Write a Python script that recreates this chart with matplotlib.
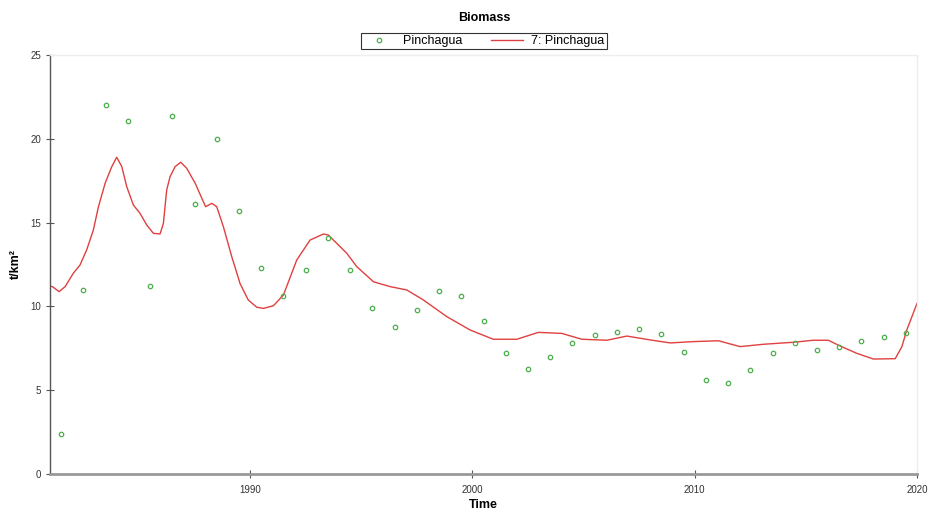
import matplotlib
matplotlib.use("Agg")
import matplotlib.pyplot as plt
from matplotlib.lines import Line2D

plt.rcParams['font.family'] = ['Liberation Sans', 'DejaVu Sans']

# observed biomass (one point per year, plotted mid-year)
obs_years = [y + 0.5 for y in range(1981, 2020)]
obs_values = [2.4, 11.0, 22.0, 21.05, 11.2, 21.35, 16.1, 20.0, 15.7, 12.3,
              10.6, 12.2, 14.1, 12.2, 9.9, 8.8, 9.8, 10.9, 10.6, 9.1,
              7.2, 6.28, 7.0, 7.83, 8.29, 8.45, 8.65, 8.37, 7.28, 5.63,
              5.41, 6.2, 7.2, 7.8, 7.38, 7.58, 7.95, 8.17, 8.39]

# model fit
fit_years = [1981.0, 1981.11, 1981.41, 1981.68, 1982.05, 1982.35, 1982.65, 1982.95,
             1983.18, 1983.48, 1983.78, 1984.0, 1984.23, 1984.45, 1984.75, 1985.05,
             1985.35, 1985.65, 1985.95, 1986.1, 1986.25, 1986.4, 1986.63, 1986.88,
             1987.15, 1987.53, 1987.83, 1988.0, 1988.28, 1988.5, 1988.8, 1989.18,
             1989.55, 1989.92, 1990.3, 1990.6, 1991.05, 1991.5,
             1992.1, 1992.7, 1993.3, 1993.52, 1994.35, 1994.8, 1995.55, 1996.3,
             1997.05, 1997.8, 1998.85, 1999.9, 2000.94, 2002.0, 2002.97, 2004.02,
             2004.92, 2006.05, 2006.95, 2008.0, 2008.9, 2009.94, 2011.07, 2012.04,
             2013.09, 2014.44, 2015.34, 2016.01, 2016.54, 2017.29, 2018.04, 2019.02,
             2019.32, 2019.54, 2020.0]
fit_values = [11.2, 11.18, 10.88, 11.18, 11.98, 12.47, 13.37, 14.56,
              15.95, 17.35, 18.34, 18.9, 18.34, 17.15, 16.05, 15.55,
              14.86, 14.36, 14.32, 14.95, 16.95, 17.74, 18.34, 18.6,
              18.24, 17.35, 16.45, 15.95, 16.15, 15.95, 14.75, 12.95,
              11.36, 10.38, 9.95, 9.88, 10.04, 10.68,
              12.77, 13.96, 14.32, 14.26, 13.17, 12.37, 11.47, 11.18,
              10.98, 10.38, 9.39, 8.59, 8.04, 8.04, 8.45, 8.39,
              8.04, 7.98, 8.23, 8.0, 7.82, 7.9, 7.95, 7.6,
              7.74, 7.86, 7.98, 7.98, 7.64, 7.2, 6.86, 6.88,
              7.6, 8.59, 10.18]

x_ticks = [1990, 2000, 2010, 2020]
y_ticks = [0, 5, 10, 15, 20, 25]

green = '#4cae4c'
red = '#e0403f'

fig = plt.figure(figsize=(9.3, 5.14), dpi=100)
ax = fig.add_axes([50 / 930, 1 - 474 / 514, 867 / 930, 419 / 514])

ax.plot(fit_years, fit_values, color=red, lw=1.0, zorder=2)
ax.plot(obs_years, obs_values, linestyle='none', marker='o', markersize=3.2,
        markerfacecolor='none', markeredgecolor=green, markeredgewidth=0.9, zorder=3)

ax.set_xlim(1981, 2020)
ax.set_ylim(0, 25)
ax.set_xticks(x_ticks)
ax.set_yticks(y_ticks)
ax.tick_params(axis='both', direction='inout', length=6, width=0.8,
               labelsize=7, color='#555555', labelcolor='#333333')
ax.tick_params(axis='x', pad=5)

for side in ['top', 'right']:
    ax.spines[side].set_color('#eeeeee')
    ax.spines[side].set_linewidth(1.0)
ax.spines['left'].set_color('#555555')
ax.spines['left'].set_linewidth(1.0)
ax.spines['bottom'].set_color('#999999')
ax.spines['bottom'].set_linewidth(2.0)

ax.set_xlabel('Time', fontsize=9, fontweight='bold', labelpad=3)
ax.set_ylabel('t/km²', fontsize=9, fontweight='bold', labelpad=6)

fig.text(484 / 930, 1 - 18 / 514, 'Biomass', ha='center', va='center',
         fontsize=9, fontweight='bold')

handles = [
    Line2D([], [], linestyle='none', marker='o', markersize=3.2,
           markerfacecolor='none', markeredgecolor=green, markeredgewidth=0.9),
    Line2D([], [], color=red, lw=1.0),
]
leg = fig.legend(handles, ['Pinchagua', '7: Pinchagua'], loc='center',
                 bbox_to_anchor=(484 / 930, 1 - 41 / 514), ncol=2, fontsize=9,
                 frameon=True, fancybox=False, edgecolor='black',
                 borderpad=0.15, handlelength=2.5, columnspacing=2.3,
                 handletextpad=0.7)
leg.get_frame().set_linewidth(0.8)

fig.savefig('out.png', dpi=100)
